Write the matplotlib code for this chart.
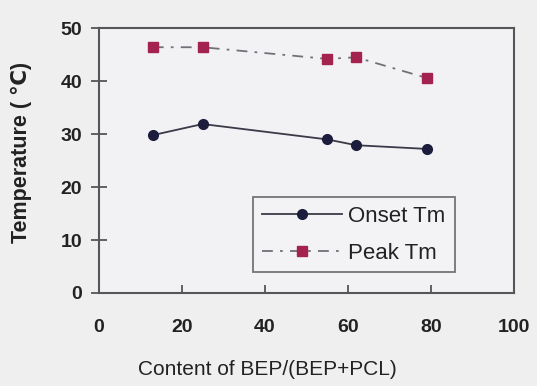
import matplotlib
matplotlib.use("Agg")
import matplotlib.pyplot as plt

# Datos
contenido = [13, 25, 55, 62, 79]
onset_tm = [29.8, 31.9, 29.0, 27.9, 27.2]
peak_tm = [46.4, 46.4, 44.2, 44.5, 40.6]
xticks = [0, 20, 40, 60, 80, 100]
yticks = [0, 10, 20, 30, 40, 50]

plt.rcParams["font.family"] = ["Liberation Sans", "DejaVu Sans"]
bg = "#efeff0"
txt = "#222222"
fig = plt.figure(figsize=(5.37, 3.86), dpi=100, facecolor=bg)
ax = fig.add_axes([0.184, 0.241, 0.773, 0.686], facecolor="#f2f2f4")

ax.plot(contenido, onset_tm, "-", color="#3a3a48", lw=1.3,
        marker="o", ms=7, mfc="#1c1c3c", mec="#1c1c3c", label="Onset Tm")
ax.plot(contenido, peak_tm, linestyle=(0, (6, 4, 1.5, 4)), color="#707078",
        lw=1.3, marker="s", ms=7, mfc="#a3234e", mec="#a3234e",
        label="Peak Tm")

ax.set_xlim(0, 100)
ax.set_ylim(0, 50)
ax.set_xticks(xticks)
ax.set_yticks(yticks)
for s in ax.spines.values():
    s.set_color("#55555a")
    s.set_linewidth(1.5)
ax.tick_params(axis="x", direction="in", length=6, width=1.3,
               colors="#55555a", labelcolor=txt, labelsize=14, pad=19)
ax.tick_params(axis="y", direction="inout", length=12, width=1.3,
               colors="#55555a", labelcolor=txt, labelsize=14, pad=6)
for lab in ax.get_xticklabels() + ax.get_yticklabels():
    lab.set_fontweight("bold")

ax.set_xlabel("Content of BEP/(BEP+PCL)", fontsize=15, color=txt)
ax.xaxis.set_label_coords(0.407, -0.255)
ax.set_ylabel("Temperature ( ℃)", fontsize=15.5, color=txt,
              fontweight="bold")
ax.yaxis.set_label_coords(-0.16, 0.53)

leg = ax.legend(loc="upper left", bbox_to_anchor=(0.371, 0.362),
                borderaxespad=0, fontsize=16, frameon=True, fancybox=False,
                handlelength=3.6, handletextpad=0.3, borderpad=0.4,
                labelspacing=0.7)
leg.get_frame().set_edgecolor("#55555a")
leg.get_frame().set_linewidth(1.3)
leg.get_frame().set_facecolor("#f4f4f6")
for t in leg.get_texts():
    t.set_color(txt)

fig.savefig("out.png", dpi=100, facecolor=bg)
